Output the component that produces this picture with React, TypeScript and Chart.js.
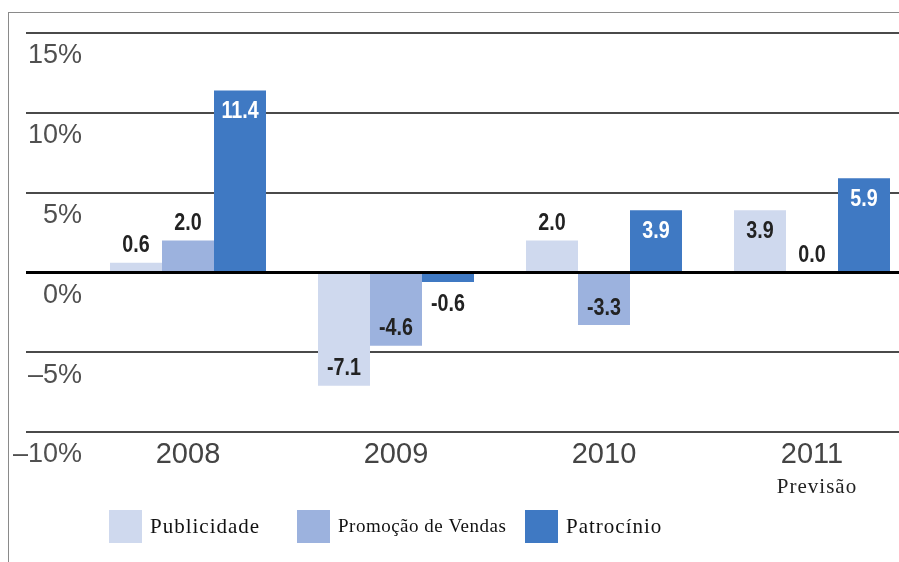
import React, { useEffect, useRef } from "react";
import { Chart, registerables } from "chart.js";

Chart.register(...registerables);

// ---- data ----
const categories = ["2008", "2009", "2010", "2011"];
const seriesNames = ["Publicidade", "Promoção de Vendas", "Patrocínio"];
const publicidade = [0.6, -7.1, 2.0, 3.9];
const promocao = [2.0, -4.6, -3.3, 0.0];
const patrocinio = [11.4, -0.6, 3.9, 5.9];
const seriesColors = ["#cfd9ee", "#9cb2de", "#3f79c3"];
const yMin = -10;
const yMax = 15;
const yStep = 5;
const forecastNote = "Previsão";
const forecastIndex = 3;

const CANVAS_W = 940;
const CANVAS_H = 562;

const dataLabelPlugin = {
  id: "dataLabels",
  afterDatasetsDraw(chart: any) {
    const ctx = chart.ctx;
    chart.data.datasets.forEach((ds: any, i: number) => {
      const meta = chart.getDatasetMeta(i);
      meta.data.forEach((bar: any, j: number) => {
        const v = ds.data[j];
        const p = bar.getProps(["x", "y", "base"], true);
        const h = Math.abs(p.base - p.y);
        const inside = h >= 40;
        let ly: number;
        if (v >= 0) ly = inside ? p.y + 21 : p.y - 17;
        else ly = inside ? p.y - 17 : p.y + 22;
        ctx.save();
        ctx.translate(p.x, ly);
        ctx.scale(0.82, 1);
        ctx.font = 'bold 24px "Liberation Sans", Arial, sans-serif';
        ctx.textAlign = "center";
        ctx.textBaseline = "middle";
        ctx.fillStyle = inside && i === 2 ? "#ffffff" : "#222222";
        ctx.fillText(v.toFixed(1), 0, 0);
        ctx.restore();
      });
    });
  },
};

const legendFonts = ["21px", "19px", "21px"];
const legendSpacing = ["1px", "0.5px", "1px"];
const legendBoxX = [109, 297, 525];

const extrasPlugin = {
  id: "extras",
  afterDraw(chart: any) {
    const ctx = chart.ctx;
    ctx.save();
    // forecast note under the last category
    const xs = chart.scales.x;
    ctx.font = '21px "Liberation Serif", serif';
    (ctx as any).letterSpacing = "1px";
    ctx.fillStyle = "#222";
    ctx.textAlign = "center";
    ctx.textBaseline = "middle";
    ctx.fillText(forecastNote, xs.getPixelForValue(forecastIndex) + 5, 487);
    // legend
    chart.data.datasets.forEach((ds: any, i: number) => {
      const bx = legendBoxX[i];
      ctx.fillStyle = ds.backgroundColor;
      ctx.fillRect(bx, 510, 33, 33);
      ctx.fillStyle = "#111";
      ctx.font = legendFonts[i] + ' "Liberation Serif", serif';
      (ctx as any).letterSpacing = legendSpacing[i];
      ctx.textAlign = "left";
      ctx.fillText(ds.label, bx + 41, 527);
    });
    (ctx as any).letterSpacing = "0px";
    ctx.restore();
  },
};

export default function App() {
  const ref = useRef<HTMLCanvasElement | null>(null);

  useEffect(() => {
    if (!ref.current) return;
    const chart = new Chart(ref.current, {
      type: "bar",
      data: {
        labels: categories,
        datasets: [
          { label: seriesNames[0], data: publicidade, backgroundColor: seriesColors[0] },
          { label: seriesNames[1], data: promocao, backgroundColor: seriesColors[1] },
          { label: seriesNames[2], data: patrocinio, backgroundColor: seriesColors[2] },
        ],
      },
      options: {
        responsive: false,
        animation: false,
        devicePixelRatio: 1,
        layout: { padding: { left: 0, right: CANVAS_W - 916, top: 33, bottom: 70 } },
        datasets: { bar: { categoryPercentage: 0.75, barPercentage: 1, borderWidth: 0 } },
        plugins: { legend: { display: false }, tooltip: { enabled: false }, title: { display: false } },
        scales: {
          x: {
            grid: { display: false, drawTicks: false },
            border: { display: false },
            ticks: {
              color: "#444",
              padding: 6,
              font: { family: '"Liberation Sans", Arial, sans-serif', size: 29 },
            },
            afterFit: (s: any) => {
              s.height = 60;
            },
          },
          y: {
            min: yMin,
            max: yMax,
            border: { display: false },
            grid: {
              drawTicks: true,
              tickLength: 58,
              color: (c: any) => (c.tick && c.tick.value === 0 ? "#000" : "#4a4a4a"),
              lineWidth: (c: any) => (c.tick && c.tick.value === 0 ? 3 : 2),
            },
            ticks: {
              stepSize: yStep,
              padding: -56,
              labelOffset: 23,
              color: "#505050",
              font: { family: '"Liberation Sans", Arial, sans-serif', size: 27 },
              callback: (v: any) => (v < 0 ? "–" + Math.abs(v) : String(v)) + "%",
            },
            afterFit: (s: any) => {
              s.width = 84;
            },
          },
        },
      },
      plugins: [dataLabelPlugin, extrasPlugin],
    });
    return () => chart.destroy();
  }, []);

  return (
    <div
      style={{
        position: "fixed",
        left: 0,
        top: 0,
        width: 899,
        height: 562,
        overflow: "hidden",
        background: "#fff",
      }}
    >
      <div
        style={{
          position: "absolute",
          left: 8,
          top: 12,
          width: 1000,
          height: 1000,
          border: "1px solid #8a8a8a",
        }}
      />
      <canvas
        ref={ref}
        width={CANVAS_W}
        height={CANVAS_H}
        style={{ position: "absolute", left: 0, top: 0, display: "block" }}
      />
    </div>
  );
}
